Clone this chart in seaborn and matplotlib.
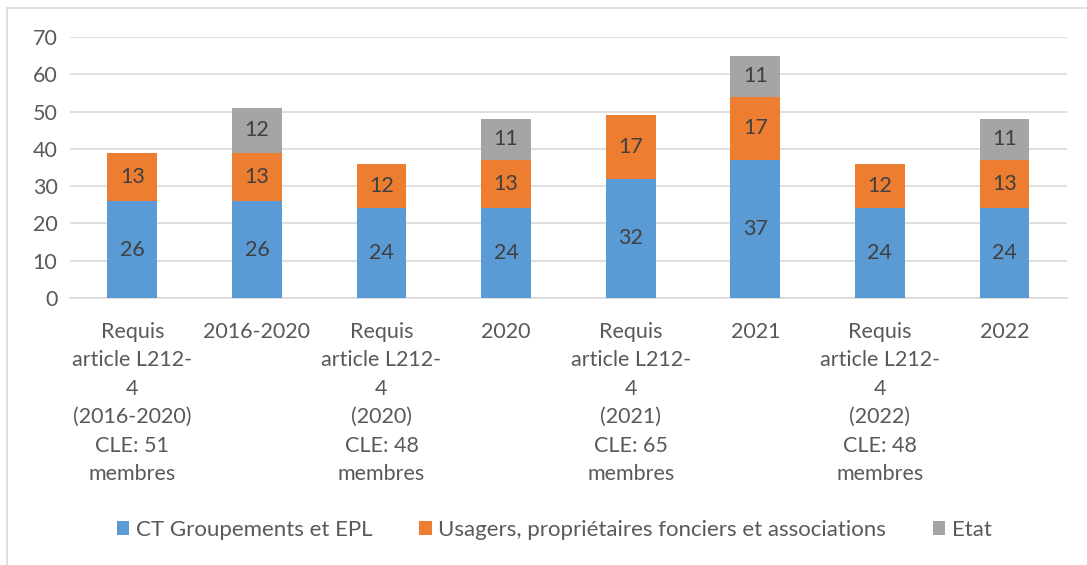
import numpy as np
import pandas as pd
import matplotlib
matplotlib.use("Agg")
import matplotlib.pyplot as plt
import seaborn as sns
from matplotlib.patches import Rectangle, Patch

categories = [
    "Requis\narticle L212-\n4\n(2016-2020)\nCLE: 51\nmembres",
    "2016-2020",
    "Requis\narticle L212-\n4\n(2020)\nCLE: 48\nmembres",
    "2020",
    "Requis\narticle L212-\n4\n(2021)\nCLE: 65\nmembres",
    "2021",
    "Requis\narticle L212-\n4\n(2022)\nCLE: 48\nmembres",
    "2022",
]
ct_groupements = [26, 26, 24, 24, 32, 37, 24, 24]
usagers = [13, 13, 12, 13, 17, 17, 12, 13]
etat = [0, 12, 0, 11, 0, 11, 0, 11]
series_names = ["CT Groupements et EPL", "Usagers, propriétaires fonciers et associations", "Etat"]
colors = ["#5B9BD5", "#ED7D31", "#A5A5A5"]

df = pd.DataFrame({"cat": categories, "ct": ct_groupements, "us": usagers, "et": etat})
df["lvl1"] = df["ct"]
df["lvl2"] = df["ct"] + df["us"]
df["lvl3"] = df["lvl2"] + df["et"]

sns.set_style("white")
plt.rcParams["font.family"] = ["Lato", "DejaVu Sans"]

fig = plt.figure(figsize=(10.87, 5.65), dpi=100)
ax = fig.add_axes([0.0644, 0.4726, 0.917, 0.462])

# stacked bars drawn as overlapping cumulative totals
for col, c in zip(["lvl3", "lvl2", "lvl1"], colors[::-1]):
    sns.barplot(data=df, x="cat", y=col, color=c, width=0.4, saturation=1,
                ax=ax, zorder=3, linewidth=0)

text_color = "#404040"
for i, row in df.iterrows():
    segs = [(0, row["ct"]), (row["lvl1"], row["us"]), (row["lvl2"], row["et"])]
    for base, h in segs:
        if h > 0:
            ax.text(i, base + h / 2, str(h), ha="center", va="center",
                    fontsize=15.5, color=text_color, zorder=4)

ax.set_ylim(0, 70)
ax.set_xlim(-0.5, len(categories) - 0.5)
ax.set_yticks(range(0, 71, 10))
ax.yaxis.grid(True, color="#D9D9D9", linewidth=1.2, zorder=0)
ax.set_axisbelow(True)
for s in ["top", "right", "left"]:
    ax.spines[s].set_visible(False)
ax.spines["bottom"].set_color("#D9D9D9")
ax.spines["bottom"].set_linewidth(1.2)
ax.set_xlabel("")
ax.set_ylabel("")
ax.tick_params(axis="both", length=0, labelsize=15.5, colors="#595959")
ax.tick_params(axis="x", pad=17)
ax.tick_params(axis="y", pad=9)
for lbl in ax.get_xticklabels():
    lbl.set_linespacing(1.53)

handles = [Patch(facecolor=c, edgecolor="none") for c in colors]
fig.legend(handles, series_names, loc="center", bbox_to_anchor=(0.51, 0.062),
           ncol=3, frameon=False, fontsize=16, labelcolor="#595959",
           handlelength=0.55, handleheight=0.55, handletextpad=0.3, columnspacing=2.1)

fig.patches.append(Rectangle((7 / 1087, -0.05), 1.1, 1 - 8 / 565 + 0.05,
                             transform=fig.transFigure, fill=False,
                             edgecolor="#D9D9D9", linewidth=1.2))

fig.savefig("out.png", dpi=100)
